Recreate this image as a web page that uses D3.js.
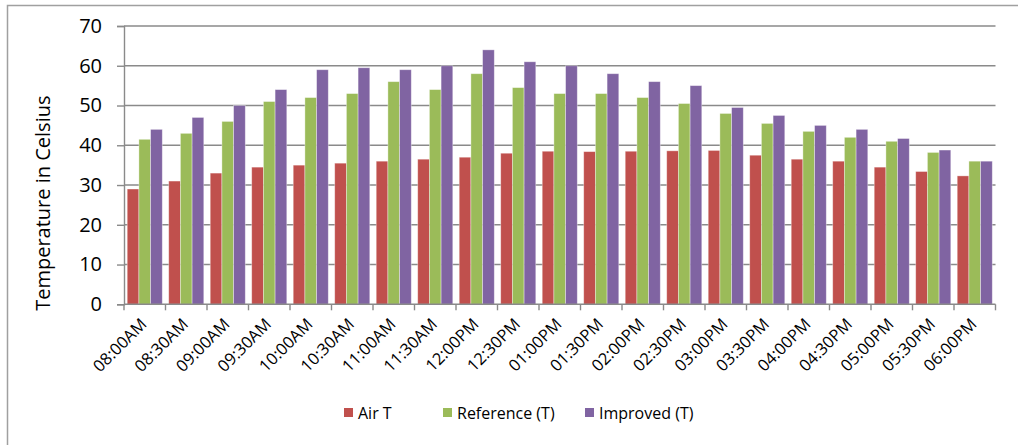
<!DOCTYPE html>
<html>
<head>
<meta charset="utf-8">
<script src="https://cdn.jsdelivr.net/npm/d3@7"></script>
<style>
  html, body { margin: 0; padding: 0; background: #fff; }
  svg { display: block; font-family: "Open Sans", "Noto Sans", sans-serif; }
</style>
</head>
<body>
<svg id="chart" width="1018" height="445"></svg>
<script>
// Half-hourly readings, 08:00AM to 06:00PM
const times = ["08:00AM","08:30AM","09:00AM","09:30AM","10:00AM","10:30AM","11:00AM",
  "11:30AM","12:00PM","12:30PM","01:00PM","01:30PM","02:00PM","02:30PM","03:00PM",
  "03:30PM","04:00PM","04:30PM","05:00PM","05:30PM","06:00PM"];
const airT      = [29, 31, 33, 34.5, 35, 35.5, 36, 36.5, 37, 38, 38.5, 38.4, 38.5, 38.6, 38.7, 37.5, 36.5, 36, 34.5, 33.4, 32.3];
const referenceT = [41.5, 43, 46, 51, 52, 53, 56, 54, 58, 54.5, 53, 53, 52, 50.5, 48, 45.5, 43.5, 42, 41, 38.2, 36];
const improvedT  = [44, 47, 50, 54, 59, 59.5, 59, 60, 64, 61, 60, 58, 56, 55, 49.5, 47.5, 45, 44, 41.7, 38.8, 36];
const seriesNames = ["Air T", "Reference (T)", "Improved (T)"];
const seriesColors = ["#C0504D", "#9BBB59", "#8064A2"];
const yTicks = [0, 10, 20, 30, 40, 50, 60, 70];

const seriesValues = [airT, referenceT, improvedT];

const svg = d3.select("#chart");

// Outer chart frame
svg.append("rect")
  .attr("x", 7.5).attr("y", 5.5)
  .attr("width", 1030).attr("height", 460)
  .attr("fill", "none").attr("stroke", "#a0a0a0").attr("stroke-width", 1.5);

const plot = { left: 124, right: 995.5, top: 26, bottom: 304.3 };

const x = d3.scaleBand().domain(times).range([plot.left, plot.right]).padding(0);
const xs = d3.scaleBand().domain(d3.range(3)).range([0, x.bandwidth()])
  .paddingInner(0).paddingOuter(0.275);
const y = d3.scaleLinear().domain([0, 70]).range([plot.bottom, plot.top]);

// Horizontal gridlines
svg.append("g").selectAll("line").data(yTicks.filter(d => d > 0)).join("line")
  .attr("x1", plot.left).attr("x2", plot.right)
  .attr("y1", d => y(d)).attr("y2", d => y(d))
  .attr("stroke", "#8a8a8a").attr("stroke-width", 1.4);

// Bars
const groups = svg.append("g").selectAll("g").data(times).join("g")
  .attr("transform", d => `translate(${x(d)},0)`);
groups.selectAll("rect")
  .data((d, i) => seriesValues.map((vals, s) => ({ s, v: vals[i] })))
  .join("rect")
  .attr("x", d => xs(d.s))
  .attr("width", xs.bandwidth())
  .attr("y", d => y(d.v))
  .attr("height", d => y(0) - y(d.v))
  .attr("fill", d => seriesColors[d.s])
  .attr("stroke", "rgba(255,255,255,0.45)")
  .attr("stroke-width", 0.8);

// Y axis
const yAxis = d3.axisLeft(y).tickValues(yTicks).tickSize(7).tickPadding(15).tickFormat(d3.format("d"));
const gy = svg.append("g").attr("transform", `translate(${plot.left},0)`).call(yAxis);
gy.select(".domain").attr("stroke", "#8a8a8a").attr("stroke-width", 1.4);
gy.selectAll(".tick line").attr("stroke", "#8a8a8a").attr("stroke-width", 1.4);
gy.selectAll(".tick text").attr("font-size", 20).attr("fill", "#000")
  .attr("font-family", "Open Sans, sans-serif");

// X axis: baseline and boundary ticks between categories
const gx = svg.append("g");
gx.append("line")
  .attr("x1", plot.left).attr("x2", plot.right)
  .attr("y1", plot.bottom).attr("y2", plot.bottom)
  .attr("stroke", "#8a8a8a").attr("stroke-width", 1.4);
const boundaries = times.map(t => x(t)).concat([plot.right]);
gx.selectAll("line.bt").data(boundaries).join("line").attr("class", "bt")
  .attr("x1", d => d).attr("x2", d => d)
  .attr("y1", plot.bottom).attr("y2", plot.bottom + 6)
  .attr("stroke", "#8a8a8a").attr("stroke-width", 1.4);
gx.selectAll("text").data(times).join("text")
  .attr("transform", d => `translate(${x(d) + x.bandwidth() / 2 + 3},${plot.bottom + 21}) rotate(-45)`)
  .attr("text-anchor", "end")
  .attr("font-size", 16.5)
  .attr("fill", "#000")
  .text(d => d);

// Y axis title
svg.append("text")
  .attr("transform", `translate(50,${(plot.top + plot.bottom) / 2 + 38}) rotate(-90)`)
  .attr("text-anchor", "middle")
  .attr("font-size", 20)
  .attr("fill", "#000")
  .text("Temperature in Celsius");

// Legend
const legendX = [344, 443, 585];
const legend = svg.append("g").selectAll("g").data(seriesNames).join("g")
  .attr("transform", (d, i) => `translate(${legendX[i]},413)`);
legend.append("rect")
  .attr("x", 0).attr("y", -5).attr("width", 9).attr("height", 9)
  .attr("fill", (d, i) => seriesColors[i]);
legend.append("text")
  .attr("x", 14).attr("y", 0).attr("dy", "0.35em")
  .attr("font-size", 16).attr("fill", "#000")
  .text(d => d);
</script>
</body>
</html>
